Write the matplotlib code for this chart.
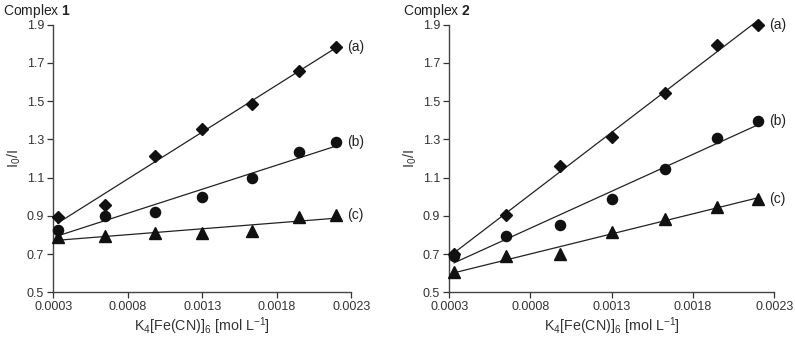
import numpy as np
import matplotlib
matplotlib.use("Agg")
import matplotlib.pyplot as plt

plt.rcParams['font.family'] = ['Liberation Sans', 'DejaVu Sans']
plt.rcParams['mathtext.fontset'] = 'custom'
plt.rcParams['mathtext.rm'] = 'Liberation Sans'
plt.rcParams['mathtext.it'] = 'Liberation Sans'
plt.rcParams['mathtext.bf'] = 'Liberation Sans:bold'

# concentration of K4[Fe(CN)6] (mol/L)
conc = [0.00033, 0.00065, 0.00098, 0.00130, 0.00163, 0.00195, 0.00220]

# Complex 1
c1_a = [0.893, 0.955, 1.212, 1.355, 1.486, 1.655, 1.785]
c1_b = [0.825, 0.900, 0.918, 0.999, 1.100, 1.233, 1.287]
c1_c = [0.790, 0.795, 0.810, 0.812, 0.820, 0.893, 0.905]

# Complex 2
c2_a = [0.702, 0.905, 1.163, 1.314, 1.543, 1.795, 1.900]
c2_b = [0.690, 0.797, 0.855, 0.990, 1.145, 1.309, 1.394]
c2_c = [0.605, 0.688, 0.700, 0.815, 0.885, 0.947, 0.990]

series_labels = ["(a)", "(b)", "(c)"]
xticks = [0.0003, 0.0008, 0.0013, 0.0018, 0.0023]
yticks = [0.5, 0.7, 0.9, 1.1, 1.3, 1.5, 1.7, 1.9]

fig = plt.figure(figsize=(7.95, 3.42), dpi=100)
axes = [fig.add_axes([0.067, 0.145, 0.375, 0.783]),
        fig.add_axes([0.565, 0.145, 0.409, 0.783])]

markers = [('D', 6.3), ('o', 7.3), ('^', 8.3)]
panels = [(c1_a, c1_b, c1_c), (c2_a, c2_b, c2_c)]
x = np.array(conc)

for i, (ax, data) in enumerate(zip(axes, panels)):
    for (m, ms), y, lab in zip(markers, data, series_labels):
        y = np.array(y)
        k, b = np.polyfit(x, y, 1)
        xx = np.array([x[0], x[-1]])
        ax.plot(xx, k * xx + b, color='#222222', lw=0.9, zorder=2, clip_on=False)
        ax.plot(x, y, linestyle='none', marker=m, markersize=ms,
                color='#111111', zorder=3, clip_on=False)
        ax.annotate(lab, (x[-1], y[-1]), xytext=(8, 0), textcoords='offset points',
                    va='center', ha='left', fontsize=10, color='#222222',
                    annotation_clip=False)
    ax.set_xlim(0.0003, 0.0023)
    ax.set_ylim(0.5, 1.9)
    ax.set_xticks(xticks)
    ax.set_xticklabels([f"{t:.4f}" for t in xticks])
    ax.set_yticks(yticks)
    ax.set_yticklabels([f"{t:.1f}" for t in yticks])
    for s in ['top', 'right']:
        ax.spines[s].set_visible(False)
    for s in ['left', 'bottom']:
        ax.spines[s].set_color('#444444')
        ax.spines[s].set_linewidth(1.0)
    ax.tick_params(axis='both', labelsize=9, colors='#333333', length=4, width=0.9,
                   direction='out', pad=2.5)
    ax.set_xlabel(r"K$_4$[Fe(CN)]$_6$ [mol L$^{-1}$]", fontsize=10.3, color='#333333',
                  labelpad=1.5)
    ax.set_ylabel(r"I$_0$/I", fontsize=10.3, color='#333333', labelpad=3)
    ax.patch.set_alpha(0)

fig.text(0.004, 0.995, "Complex $\\mathbf{1}$", fontsize=10, va='top', ha='left',
         color='#222222')
fig.text(0.507, 0.995, "Complex $\\mathbf{2}$", fontsize=10, va='top', ha='left',
         color='#222222')

fig.savefig("out.png", dpi=100)
